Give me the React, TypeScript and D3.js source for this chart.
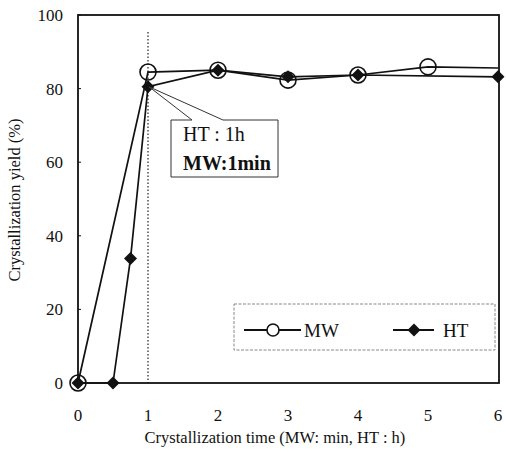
import React from "react";
import * as d3 from "d3";

const xTicks = [0, 1, 2, 3, 4, 5, 6];
const yTicks = [0, 20, 40, 60, 80, 100];

// MW: minutes, HT: hours
const mwTime = [0, 1, 2, 3, 4, 5, 6];
const mwYield = [0, 84.5, 85, 82.3, 83.7, 85.9, 85.6];

const htTime = [0, 0.5, 0.75, 1, 2, 3, 4, 6];
const htYield = [0, 0, 33.8, 80.5, 85, 83.2, 83.7, 83.2];

const font = "'Liberation Serif', 'DejaVu Serif', serif";

export default function App() {
  const width = 506;
  const height = 455;
  const x = d3.scaleLinear().domain([0, 6]).range([78, 498]);
  const y = d3.scaleLinear().domain([0, 100]).range([383, 15]);

  const mw = mwTime.map((t, i) => ({ t, v: mwYield[i] }));
  const ht = htTime.map((t, i) => ({ t, v: htYield[i] }));

  const line = d3
    .line<{ t: number; v: number }>()
    .x((d) => x(d.t))
    .y((d) => y(d.v));

  const diamond = (cx: number, cy: number, r: number) =>
    `M${cx},${cy - r}L${cx + r},${cy}L${cx},${cy + r}L${cx - r},${cy}Z`;

  // callout pointing at HT 1h point
  const tipX = x(1) + 1;
  const tipY = y(htYield[3]);
  const callout = [
    [171, 120],
    [192, 120],
    [tipX, tipY],
    [223, 120],
    [278, 120],
    [278, 177],
    [171, 177],
  ];

  return (
    <svg
      width={width}
      height={height}
      style={{ position: "absolute", left: 0, top: 0, background: "#fff", fontFamily: font }}
    >
      <rect width={width} height={height} fill="#fff" />

      {/* dotted reference line at t = 1 */}
      <line
        x1={x(1)}
        x2={x(1)}
        y1={32}
        y2={y(0)}
        stroke="#333"
        strokeWidth={1.3}
        strokeDasharray="1.5,2"
      />

      {/* frame */}
      <rect
        x={x(0)}
        y={y(100)}
        width={x(6) + 1 - x(0)}
        height={y(0) - y(100)}
        fill="none"
        stroke="#111"
        strokeWidth={1.8}
      />

      {/* inner ticks */}
      {yTicks.map((t) => (
        <line key={"yt" + t} x1={x(0)} x2={x(0) + 3} y1={y(t)} y2={y(t)} stroke="#111" />
      ))}

      {/* y tick labels */}
      {yTicks.map((t) => (
        <text
          key={"yl" + t}
          x={63}
          y={y(t)}
          dy="0.35em"
          textAnchor="end"
          fontSize={17}
          fill="#111"
        >
          {t}
        </text>
      ))}

      {/* x tick labels */}
      {xTicks.map((t) => (
        <text
          key={"xl" + t}
          x={x(t)}
          y={421}
          textAnchor="middle"
          fontSize={17}
          fill="#111"
        >
          {t}
        </text>
      ))}

      {/* axis titles */}
      <text x={275} y={443} textAnchor="middle" fontSize={16.5} fill="#111">
        Crystallization time (MW: min, HT : h)
      </text>
      <text
        transform={`translate(20,${200}) rotate(-90)`}
        textAnchor="middle"
        fontSize={16.5}
        fill="#111"
      >
        Crystallization yield (%)
      </text>

      {/* series lines */}
      <path d={line(mw) ?? ""} fill="none" stroke="#111" strokeWidth={1.7} />
      <path d={line(ht) ?? ""} fill="none" stroke="#111" strokeWidth={1.7} />

      {/* MW markers */}
      {mw
        .filter((d) => d.t < 6)
        .map((d) => (
          <circle
            key={"mw" + d.t}
            cx={x(d.t)}
            cy={y(d.v)}
            r={8}
            fill="none"
            stroke="#111"
            strokeWidth={1.6}
          />
        ))}

      {/* HT markers */}
      {ht.map((d) => (
        <path key={"ht" + d.t} d={diamond(x(d.t), y(d.v), 6.5)} fill="#111" />
      ))}

      {/* callout */}
      <polygon
        points={callout.map((p) => p.join(",")).join(" ")}
        fill="#fff"
        stroke="#333"
        strokeWidth={1}
      />
      <text x={183} y={141} fontSize={20} fill="#111">
        HT : 1h
      </text>
      <text x={183} y={170} fontSize={20} fontWeight="bold" fill="#111">
        MW:1min
      </text>

      {/* legend */}
      <rect
        x={234}
        y={304}
        width={261}
        height={46}
        fill="#fff"
        stroke="#888"
        strokeWidth={1}
        strokeDasharray="3,1.5"
      />
      <line x1={244} x2={301} y1={330} y2={330} stroke="#111" strokeWidth={1.8} />
      <circle cx={273} cy={330} r={6} fill="#fff" stroke="#111" strokeWidth={1.6} />
      <text x={304} y={337} fontSize={19} fill="#111">
        MW
      </text>
      <line x1={393} x2={434} y1={330} y2={330} stroke="#111" strokeWidth={1.8} />
      <path d={diamond(414, 330, 6.5)} fill="#111" />
      <text x={443} y={337} fontSize={19} fill="#111">
        HT
      </text>
    </svg>
  );
}
